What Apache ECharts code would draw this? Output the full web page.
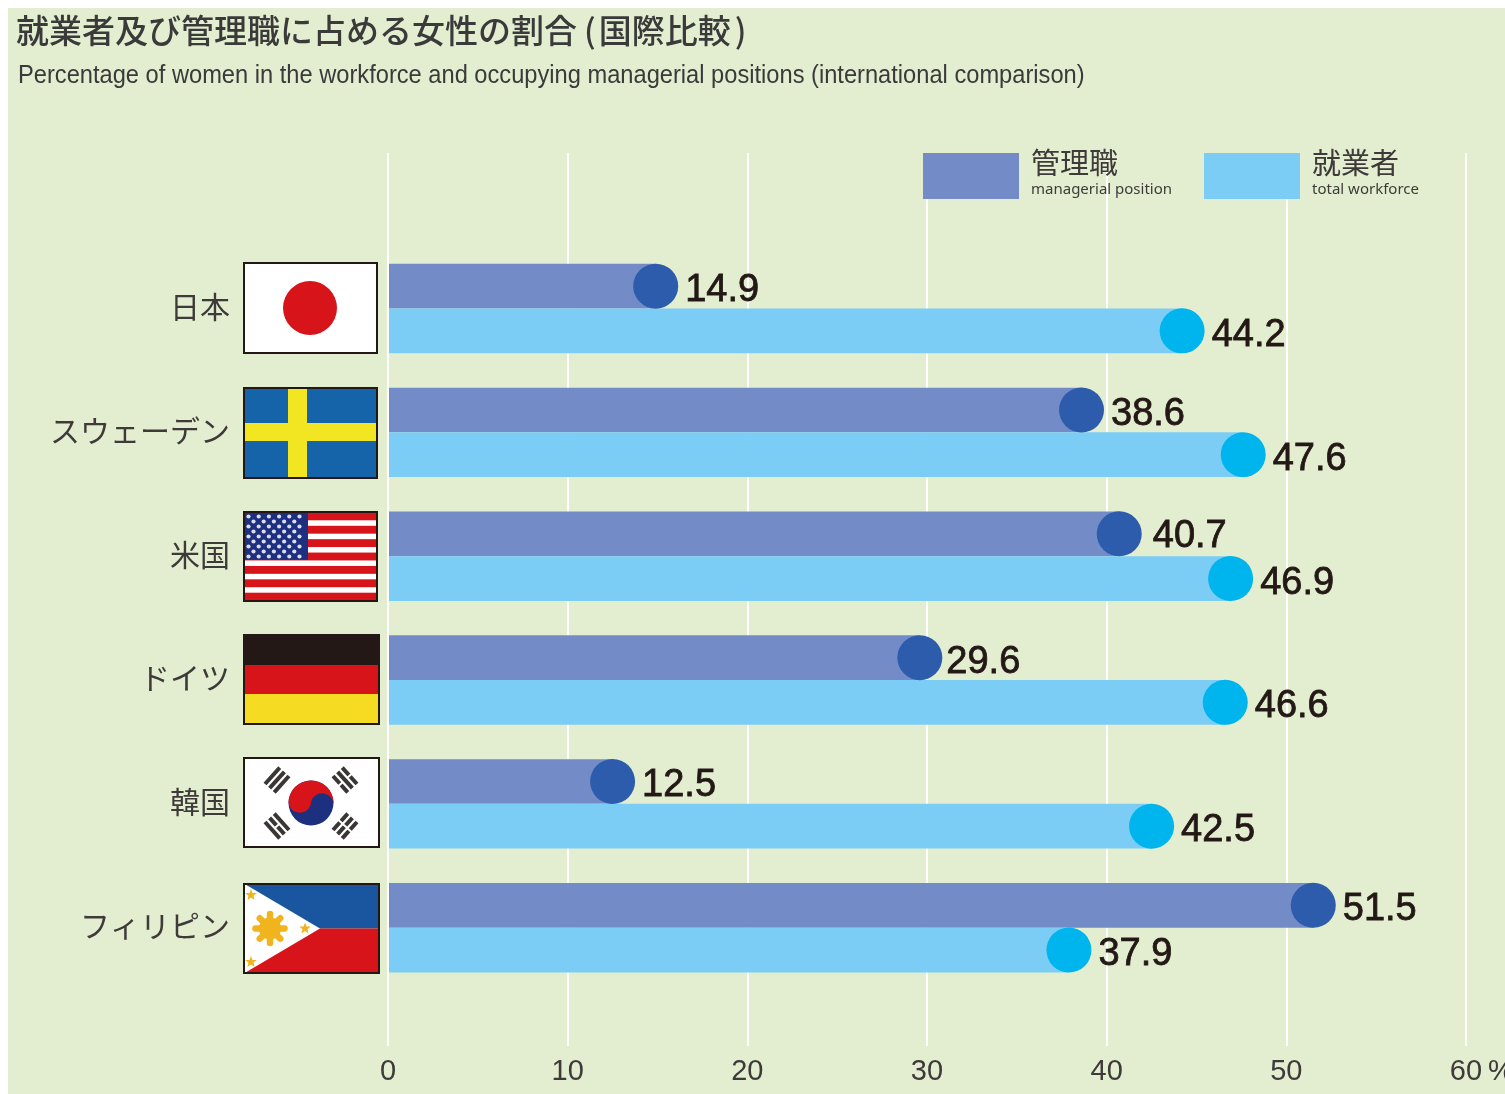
<!DOCTYPE html>
<html><head><meta charset="utf-8">
<style>html,body{margin:0;padding:0;background:#fff}#c{width:1505px;height:1094px}</style>
<script src="https://cdn.jsdelivr.net/npm/echarts@6/dist/echarts.min.js"></script>
</head><body><div id="c"></div>
<script>
const categories = ['日本','スウェーデン','米国','ドイツ','韓国','フィリピン'];
const managerial = [14.9,38.6,40.7,29.6,12.5,51.5];
const workforce = [44.2,47.6,46.9,46.6,42.5,37.9];
const xTicks = [0,10,20,30,40,50,60];
const titleMain = '就業者及び管理職に占める女性の割合';
const titleSub = '国際比較';
const subtitleText = 'Percentage of women in the workforce and occupying managerial positions (international comparison)';
const seriesNames = ['管理職','就業者'];
const seriesSubNames = ['managerial position','total workforce'];

const INK='#231815', BG='#e2eecf', BAR_A='#738bc7', BAR_B='#7bcdf5', DOT_A='#2d5cac', DOT_B='#00b4ed';
const RED='#d7141a';
const GRID_L=388, GRID_R=1505-1466;

function svgUri(w,h,inner){
  return 'data:image/svg+xml;charset=utf-8,'+encodeURIComponent(
    `<svg xmlns="http://www.w3.org/2000/svg" width="${w}" height="${h}" viewBox="0 0 ${w} ${h}">${inner}<rect x="1" y="1" width="${w-2}" height="${h-2}" fill="none" stroke="${INK}" stroke-width="2"/></svg>`);
}
function usFlag(w,h){
  let s=`<rect width="${w}" height="${h}" fill="${RED}"/>`;
  const sh=(h-4)/13;
  for(let i=1;i<13;i+=2) s+=`<rect x="0" y="${2+i*sh+0.6}" width="${w}" height="${sh-1.2}" fill="#fff"/>`;
  s+=`<rect x="2" y="2" width="63" height="${sh*7}" fill="#1d2f7f"/>`;
  for(let r=0;r<9;r++){const n=r%2?5:6;for(let c=0;c<n;c++){
    s+=`<circle cx="${(r%2?10.5:5.5)+c*10.2}" cy="${5.5+r*5}" r="2.1" fill="#dcdcf0"/>`;}}
  return s;
}
function trigram(cx,cy,rot,brk){
  let s=`<g transform="translate(${cx} ${cy}) rotate(${rot})">`;
  [-6.2,0,6.2].forEach((y,i)=>{
    s+=`<rect x="-11" y="${y-2}" width="22" height="4" fill="#3a3636"/>`;
    if(brk[i]) s+=`<rect x="-1" y="${y-3}" width="2" height="6" fill="#fff"/>`;
  });
  return s+'</g>';
}
function koreaFlag(w,h){
  const r=22.5,cx=68,cy=46;
  return `<rect width="${w}" height="${h}" fill="#fff"/>`+
   `<circle cx="${cx}" cy="${cy}" r="${r}" fill="#1d2f7f"/>`+
   `<path transform="translate(${cx} ${cy}) rotate(8)" d="M${-r} 0A${r} ${r} 0 0 1 ${r} 0A${r/2} ${r/2} 0 0 0 0 0A${r/2} ${r/2} 0 0 1 ${-r} 0Z" fill="${RED}"/>`+
   trigram(34,23,-48,[0,0,0])+trigram(102,23,48,[1,0,1])+trigram(34,69,48,[0,1,0])+trigram(102,69,-48,[1,1,1]);
}
function starPts(cx,cy,R,r,n){
  const p=[];for(let i=0;i<n*2;i++){const a=i*Math.PI/n-Math.PI/2,q=i%2?r:R;
    p.push((cx+q*Math.cos(a)).toFixed(1)+','+(cy+q*Math.sin(a)).toFixed(1));}
  return p.join(' ');
}
function phFlag(w,h){
  const m=h/2,g='#f0b41e';
  let s=`<rect width="${w}" height="${m}" fill="#1a56a0"/><rect y="${m}" width="${w}" height="${m}" fill="${RED}"/>`+
   `<polygon points="0,0 77,${m} 0,${h}" fill="#fff"/>`;
  s+=`<circle cx="27" cy="${m}" r="11" fill="${g}"/>`;
  for(let i=0;i<8;i++){const a=i*Math.PI/4;
    s+=`<line x1="27" y1="${m}" x2="${27+14.5*Math.cos(a)}" y2="${m+14.5*Math.sin(a)}" stroke="${g}" stroke-width="6.5" stroke-linecap="round"/>`;}
  s+=`<polygon points="${starPts(8,12,6,2.6,5)}" fill="${g}"/><polygon points="${starPts(8,h-12,6,2.6,5)}" fill="${g}"/><polygon points="${starPts(62,m,6,2.6,5)}" fill="${g}"/>`;
  return s;
}
const flags=[
 {x:243,y:262,w:135,h:92,svg:(w,h)=>`<rect width="${w}" height="${h}" fill="#fff"/><circle cx="67" cy="46" r="27" fill="${RED}"/>`},
 {x:243,y:387,w:135,h:92,svg:(w,h)=>`<rect width="${w}" height="${h}" fill="#1563a8"/><rect x="45" width="19" height="${h}" fill="#f2e622"/><rect y="36" width="${w}" height="18" fill="#f2e622"/>`},
 {x:243,y:511,w:135,h:91,svg:usFlag},
 {x:243,y:634,w:137,h:91,svg:(w,h)=>`<rect width="${w}" height="31" fill="${INK}"/><rect y="31" width="${w}" height="30" fill="${RED}"/><rect y="60" width="${w}" height="31" fill="#f5dc23"/>`},
 {x:243,y:757,w:137,h:91,svg:koreaFlag},
 {x:243,y:883,w:137,h:91,svg:phFlag}
];
const graphics=[
 {type:'rect',z:-10,silent:true,shape:{x:8,y:8,width:1497,height:1086},style:{fill:BG}},
 {type:'text',x:18,y:76,z:5,scaleX:0.91,style:{text:subtitleText,fill:'#3a3a3a',font:'26px "Liberation Sans"',verticalAlign:'middle'}},
 {type:'text',x:1488,y:1072,z:5,style:{text:'%',fill:'#3e3a39',font:'29px "Liberation Sans"',verticalAlign:'middle'}}
];
flags.forEach(f=>graphics.push({type:'image',z:5,style:{image:svgUri(f.w,f.h,f.svg(f.w,f.h)),x:f.x,y:f.y,width:f.w,height:f.h}}));

const baseOffset=[24.5,4.5];
const barLabel={show:true,position:'right',offset:baseOffset,color:INK,fontFamily:'"Liberation Sans"',fontSize:38,
  textBorderColor:INK,textBorderWidth:0.8,formatter:p=>p.value.toFixed(1)};
const managerialItems=managerial.map((v,i)=>i===2?{value:v,label:{offset:[28.5,2.5]}}:i===3?{value:v,label:{offset:[21.5,4.5]}}:v);
const legendRich={rich:{a:{fontFamily:'"Noto Sans CJK JP"',fontSize:29,color:'#3e3a39',lineHeight:33,padding:[0,0,0,7]},
  b:{fontFamily:'"Noto Sans"',fontSize:15,color:'#3e3a39',lineHeight:20,padding:[0,0,0,7]},
  c:{fontSize:4,lineHeight:6}}};
const mkLegend=(i,left)=>({data:[seriesNames[i]],left,top:148.5,padding:0,itemWidth:96,itemHeight:46,icon:'rect',selectedMode:false,
  formatter:()=>`{a|${seriesNames[i]}}\n{b|${seriesSubNames[i]}}\n{c| }`,textStyle:legendRich});

const titleFont={fontFamily:'"Noto Sans CJK JP"',fontSize:33,fontWeight:500,color:'#3a3a3a'};
const option={
 animation:false,
 backgroundColor:'#fff',
 title:[
  {text:`{a|${titleMain}}{p|(}{a|${titleSub}}{q|)}`,left:16,top:14,padding:0,
   textStyle:{rich:{a:titleFont,p:{...titleFont,padding:[0,3,0,7]},q:{...titleFont,padding:[0,0,0,4]}}}}
 ],
 legend:[mkLegend(0,923),mkLegend(1,1204)],
 grid:[
  {left:GRID_L,right:GRID_R,top:153,bottom:1094-1046},
  {left:GRID_L,right:GRID_R,top:246.6,bottom:1094-989.6}
 ],
 xAxis:[
  {type:'value',gridIndex:0,min:0,max:60,interval:10,axisLine:{show:false},axisTick:{show:false},
   splitLine:{show:true,lineStyle:{color:'#fff',width:2}},
   axisLabel:{color:'#3e3a39',fontFamily:'"Liberation Sans"',fontSize:29,margin:11,formatter:v=>xTicks.includes(v)?String(v):''}},
  {type:'value',gridIndex:1,min:0,max:60,interval:10,show:false}
 ],
 yAxis:[
  {type:'category',gridIndex:0,data:[''],show:false},
  {type:'category',gridIndex:1,data:categories,inverse:true,z:6,axisLine:{show:true,lineStyle:{color:'#fff',width:2}},axisTick:{show:false},
   axisLabel:{margin:158,formatter:v=>`{n|${v}}\n{s| }`,
     rich:{n:{color:'#3e3a39',fontFamily:'"Noto Sans CJK JP"',fontSize:30,fontWeight:400,lineHeight:34},s:{fontSize:4,lineHeight:4}}}}
 ],
 series:[
  {name:seriesNames[0],type:'bar',xAxisIndex:1,yAxisIndex:1,data:managerialItems,barWidth:44.7,barGap:0,itemStyle:{color:BAR_A},label:barLabel,z:2},
  {name:seriesNames[1],type:'bar',xAxisIndex:1,yAxisIndex:1,data:workforce,barWidth:44.7,barGap:0,itemStyle:{color:BAR_B},label:barLabel,z:2},
  {name:seriesNames[0]+' ●',type:'pictorialBar',xAxisIndex:1,yAxisIndex:1,data:managerial,barWidth:44.7,barGap:0,symbol:'circle',symbolSize:[45,45],symbolPosition:'end',symbolOffset:[22.5,0],itemStyle:{color:DOT_A},z:3},
  {name:seriesNames[1]+' ●',type:'pictorialBar',xAxisIndex:1,yAxisIndex:1,data:workforce,barWidth:44.7,barGap:0,symbol:'circle',symbolSize:[45,45],symbolPosition:'end',symbolOffset:[22.5,0],itemStyle:{color:DOT_B},z:3}
 ],
 graphic:{elements:graphics}
};
const chart=echarts.init(document.getElementById('c'),null,{renderer:'canvas'});
chart.setOption(option);
</script></body></html>
